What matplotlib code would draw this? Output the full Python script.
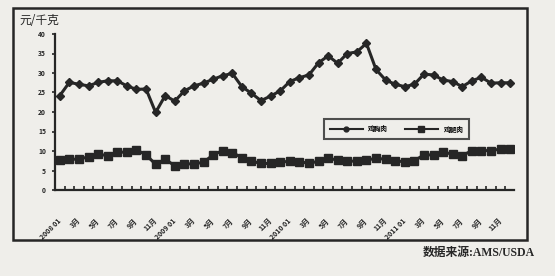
import matplotlib.pyplot as plt
from matplotlib.patches import Rectangle
from matplotlib.lines import Line2D

plt.rcParams['font.family'] = ['Noto Sans CJK SC', 'DejaVu Sans']

# 2008-01 .. 2011-12, monthly (元/千克)
breast = [24.2, 27.6, 27.1, 26.7, 27.6, 28.0, 28.0, 26.7, 25.8, 25.9, 19.9, 24.2,
          22.8, 25.4, 26.7, 27.4, 28.4, 29.3, 29.9, 26.5, 24.8, 22.9, 24.1, 25.4,
          27.8, 28.8, 29.5, 32.6, 34.4, 32.5, 35.0, 35.4, 37.6, 30.9, 28.2, 27.1,
          26.5, 27.1, 29.7, 29.5, 28.2, 27.8, 26.5, 28.0, 28.9, 27.4, 27.5, 27.5]
leg = [7.7, 7.9, 7.9, 8.5, 9.2, 8.8, 9.7, 9.7, 10.3, 9.0, 6.6, 7.9,
       6.2, 6.7, 6.7, 7.1, 9.0, 10.1, 9.6, 8.3, 7.4, 6.8, 6.8, 7.1,
       7.4, 7.3, 6.8, 7.4, 8.1, 7.7, 7.4, 7.4, 7.7, 8.1, 7.9, 7.4,
       7.3, 7.5, 9.0, 9.0, 9.7, 9.2, 8.8, 10.1, 10.1, 10.1, 10.5, 10.4]
series_names = ['鸡胸肉', '鸡腿肉']
month_labels = []
for year in ['2008', '2009', '2010', '2011']:
    month_labels += [year + ' 01', '3月', '5月', '7月', '9月', '11月']

bg = '#efeeea'
ink = '#262626'

fig = plt.figure(figsize=(5.55, 2.76), dpi=100, facecolor=bg)
ax = fig.add_axes([55 / 555, 1 - 190 / 276, 459 / 555, 156 / 276])
ax.set_facecolor(bg)

x = list(range(len(breast)))
ax.plot(x, breast, color=ink, lw=2.2, marker='D', ms=4.2, label=series_names[0])
ax.plot(x, leg, color=ink, lw=2.2, marker='s', ms=5.5, label=series_names[1])

ax.set_xlim(-0.5, 47.4)
ax.set_ylim(0, 40)
ax.set_yticks(range(0, 41, 5))
ax.tick_params(axis='y', labelsize=4.8, length=2.5, width=1.2, pad=4, colors=ink)
for t in ax.get_yticklabels():
    t.set_fontweight('bold')

ax.set_xticks(range(0, 48, 2))
ax.set_xticklabels(month_labels, rotation=45, ha='right', va='center',
                   rotation_mode='anchor', fontsize=5, fontweight='bold', color=ink)
ax.set_xticks([i + 0.5 for i in range(47)], minor=True)
ax.tick_params(axis='x', which='major', length=0, pad=21)
ax.tick_params(axis='x', which='minor', direction='in', length=3, width=1.2, colors=ink)

for s in ['top', 'right']:
    ax.spines[s].set_visible(False)
for s in ['left', 'bottom']:
    ax.spines[s].set_linewidth(1.6)
    ax.spines[s].set_color(ink)

handles = [Line2D([], [], color=ink, lw=1.5, marker='o', ms=3.5),
           Line2D([], [], color=ink, lw=1.5, marker='s', ms=4)]
leg_box = ax.legend(handles, series_names, loc='center', bbox_to_anchor=(0.744, 0.391),
                    ncol=2, handlelength=5, columnspacing=2.5,
                    prop={'size': 4.8, 'weight': 'bold'},
                    frameon=True, fancybox=False, borderpad=0.9)
leg_box.get_frame().set_edgecolor(ink)
leg_box.get_frame().set_linewidth(1.5)
leg_box.get_frame().set_facecolor(bg)

# outer frame
fig.patches.append(Rectangle((13 / 555, 1 - 240 / 276), 514 / 555, 232 / 276,
                             transform=fig.transFigure, fill=False, lw=1.8,
                             edgecolor=ink))

fig.text(19 / 555, 1 - 21 / 276, '元/千克', fontsize=8.5, color=ink, va='center')
fig.text(535 / 555, 1 - 253 / 276, '数据来源:AMS/USDA', fontsize=8.5, color=ink,
         ha='right', va='center', fontweight='bold',
         family=['Liberation Serif', 'Noto Sans CJK SC'])

fig.savefig('out.png', dpi=100, facecolor=bg)
